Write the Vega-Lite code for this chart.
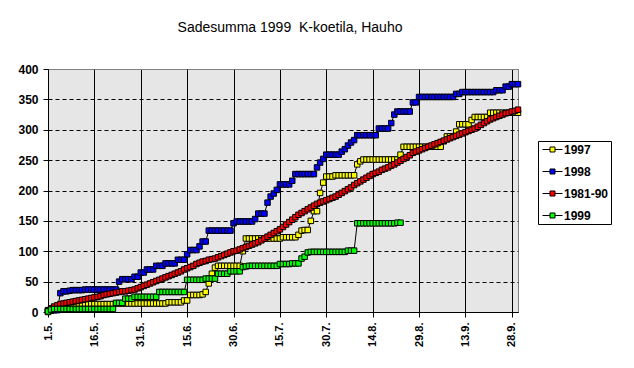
{
"$schema": "https://vega.github.io/schema/vega-lite/v6.json",
"autosize": "none",
"width": 470,
"height": 243,
"padding": {"left": 48, "top": 69, "right": 116, "bottom": 56},
"background": "white",
"title": {"text": "Sadesumma 1999\u00a0 K-koetila, Hauho", "font": "Liberation Sans", "fontSize": 14, "fontWeight": "normal", "color": "black", "anchor": "middle", "dx": 7, "offset": 28},
"data": {"values": [
{"d":"1999-05-01","1997":0,"1998":2,"1981-90":3,"1999":1},
{"d":"1999-05-02","1997":4,"1998":2,"1981-90":6,"1999":4},
{"d":"1999-05-03","1997":7,"1998":3,"1981-90":9,"1999":5},
{"d":"1999-05-04","1997":9,"1998":3,"1981-90":11,"1999":5},
{"d":"1999-05-05","1997":11,"1998":31,"1981-90":13,"1999":5},
{"d":"1999-05-06","1997":12,"1998":34,"1981-90":14,"1999":5},
{"d":"1999-05-07","1997":12,"1998":34,"1981-90":15,"1999":5},
{"d":"1999-05-08","1997":13,"1998":35,"1981-90":16,"1999":5},
{"d":"1999-05-09","1997":13,"1998":36,"1981-90":17,"1999":5},
{"d":"1999-05-10","1997":13,"1998":36,"1981-90":18,"1999":5},
{"d":"1999-05-11","1997":13,"1998":36,"1981-90":19,"1999":5},
{"d":"1999-05-12","1997":13,"1998":36,"1981-90":20,"1999":5},
{"d":"1999-05-13","1997":13,"1998":37,"1981-90":21,"1999":5},
{"d":"1999-05-14","1997":13,"1998":37,"1981-90":22,"1999":5},
{"d":"1999-05-15","1997":13,"1998":37,"1981-90":23,"1999":5},
{"d":"1999-05-16","1997":13,"1998":37,"1981-90":24,"1999":5},
{"d":"1999-05-17","1997":13,"1998":37,"1981-90":25,"1999":5},
{"d":"1999-05-18","1997":13,"1998":37,"1981-90":26,"1999":5},
{"d":"1999-05-19","1997":13,"1998":37,"1981-90":28,"1999":5},
{"d":"1999-05-20","1997":13,"1998":37,"1981-90":29,"1999":5},
{"d":"1999-05-21","1997":13,"1998":37,"1981-90":30,"1999":5},
{"d":"1999-05-22","1997":13,"1998":37,"1981-90":31,"1999":5},
{"d":"1999-05-23","1997":14,"1998":37,"1981-90":32,"1999":15},
{"d":"1999-05-24","1997":14,"1998":50,"1981-90":33,"1999":15},
{"d":"1999-05-25","1997":14,"1998":54,"1981-90":34,"1999":15},
{"d":"1999-05-26","1997":14,"1998":54,"1981-90":34,"1999":22},
{"d":"1999-05-27","1997":14,"1998":54,"1981-90":35,"1999":22},
{"d":"1999-05-28","1997":14,"1998":54,"1981-90":36,"1999":22},
{"d":"1999-05-29","1997":14,"1998":58,"1981-90":37,"1999":25},
{"d":"1999-05-30","1997":14,"1998":58,"1981-90":39,"1999":25},
{"d":"1999-05-31","1997":14,"1998":65,"1981-90":41,"1999":25},
{"d":"1999-06-01","1997":14,"1998":65,"1981-90":43,"1999":25},
{"d":"1999-06-02","1997":14,"1998":70,"1981-90":45,"1999":25},
{"d":"1999-06-03","1997":14,"1998":70,"1981-90":47,"1999":25},
{"d":"1999-06-04","1997":14,"1998":70,"1981-90":49,"1999":25},
{"d":"1999-06-05","1997":14,"1998":76,"1981-90":51,"1999":25},
{"d":"1999-06-06","1997":14,"1998":76,"1981-90":53,"1999":33},
{"d":"1999-06-07","1997":14,"1998":76,"1981-90":55,"1999":33},
{"d":"1999-06-08","1997":14,"1998":80,"1981-90":57,"1999":33},
{"d":"1999-06-09","1997":16,"1998":80,"1981-90":59,"1999":33},
{"d":"1999-06-10","1997":16,"1998":80,"1981-90":61,"1999":33},
{"d":"1999-06-11","1997":16,"1998":80,"1981-90":63,"1999":33},
{"d":"1999-06-12","1997":16,"1998":86,"1981-90":65,"1999":33},
{"d":"1999-06-13","1997":16,"1998":86,"1981-90":67,"1999":33},
{"d":"1999-06-14","1997":19,"1998":86,"1981-90":70,"1999":33},
{"d":"1999-06-15","1997":19,"1998":95,"1981-90":72,"1999":53},
{"d":"1999-06-16","1997":28,"1998":102,"1981-90":74,"1999":53},
{"d":"1999-06-17","1997":28,"1998":102,"1981-90":76,"1999":53},
{"d":"1999-06-18","1997":28,"1998":102,"1981-90":79,"1999":53},
{"d":"1999-06-19","1997":28,"1998":108,"1981-90":81,"1999":53},
{"d":"1999-06-20","1997":29,"1998":116,"1981-90":83,"1999":53},
{"d":"1999-06-21","1997":33,"1998":116,"1981-90":84,"1999":55},
{"d":"1999-06-22","1997":47,"1998":134,"1981-90":86,"1999":55},
{"d":"1999-06-23","1997":63,"1998":134,"1981-90":87,"1999":55},
{"d":"1999-06-24","1997":73,"1998":134,"1981-90":88,"1999":55},
{"d":"1999-06-25","1997":76,"1998":134,"1981-90":90,"1999":63},
{"d":"1999-06-26","1997":76,"1998":134,"1981-90":92,"1999":63},
{"d":"1999-06-27","1997":76,"1998":134,"1981-90":94,"1999":63},
{"d":"1999-06-28","1997":76,"1998":134,"1981-90":96,"1999":63},
{"d":"1999-06-29","1997":76,"1998":134,"1981-90":98,"1999":67},
{"d":"1999-06-30","1997":76,"1998":146,"1981-90":100,"1999":67},
{"d":"1999-07-01","1997":76,"1998":149,"1981-90":101,"1999":67},
{"d":"1999-07-02","1997":76,"1998":149,"1981-90":103,"1999":67},
{"d":"1999-07-03","1997":100,"1998":149,"1981-90":105,"1999":74},
{"d":"1999-07-04","1997":121,"1998":149,"1981-90":107,"1999":75},
{"d":"1999-07-05","1997":121,"1998":149,"1981-90":109,"1999":76},
{"d":"1999-07-06","1997":121,"1998":149,"1981-90":111,"1999":76},
{"d":"1999-07-07","1997":121,"1998":153,"1981-90":113,"1999":76},
{"d":"1999-07-08","1997":121,"1998":162,"1981-90":115,"1999":76},
{"d":"1999-07-09","1997":121,"1998":162,"1981-90":118,"1999":76},
{"d":"1999-07-10","1997":121,"1998":162,"1981-90":121,"1999":76},
{"d":"1999-07-11","1997":121,"1998":180,"1981-90":124,"1999":76},
{"d":"1999-07-12","1997":121,"1998":190,"1981-90":127,"1999":76},
{"d":"1999-07-13","1997":121,"1998":195,"1981-90":130,"1999":76},
{"d":"1999-07-14","1997":121,"1998":201,"1981-90":133,"1999":76},
{"d":"1999-07-15","1997":121,"1998":210,"1981-90":136,"1999":79},
{"d":"1999-07-16","1997":123,"1998":210,"1981-90":140,"1999":79},
{"d":"1999-07-17","1997":123,"1998":210,"1981-90":144,"1999":79},
{"d":"1999-07-18","1997":123,"1998":210,"1981-90":148,"1999":79},
{"d":"1999-07-19","1997":123,"1998":216,"1981-90":152,"1999":80},
{"d":"1999-07-20","1997":123,"1998":227,"1981-90":156,"1999":80},
{"d":"1999-07-21","1997":127,"1998":227,"1981-90":160,"1999":80},
{"d":"1999-07-22","1997":134,"1998":227,"1981-90":163,"1999":88},
{"d":"1999-07-23","1997":135,"1998":227,"1981-90":166,"1999":91},
{"d":"1999-07-24","1997":135,"1998":227,"1981-90":169,"1999":98},
{"d":"1999-07-25","1997":150,"1998":227,"1981-90":172,"1999":99},
{"d":"1999-07-26","1997":166,"1998":227,"1981-90":175,"1999":99},
{"d":"1999-07-27","1997":166,"1998":238,"1981-90":178,"1999":99},
{"d":"1999-07-28","1997":196,"1998":246,"1981-90":180,"1999":99},
{"d":"1999-07-29","1997":213,"1998":252,"1981-90":182,"1999":99},
{"d":"1999-07-30","1997":223,"1998":259,"1981-90":184,"1999":99},
{"d":"1999-07-31","1997":223,"1998":259,"1981-90":186,"1999":99},
{"d":"1999-08-01","1997":223,"1998":259,"1981-90":188,"1999":99},
{"d":"1999-08-02","1997":225,"1998":259,"1981-90":190,"1999":99},
{"d":"1999-08-03","1997":225,"1998":259,"1981-90":193,"1999":99},
{"d":"1999-08-04","1997":225,"1998":264,"1981-90":196,"1999":99},
{"d":"1999-08-05","1997":225,"1998":268,"1981-90":199,"1999":99},
{"d":"1999-08-06","1997":225,"1998":274,"1981-90":202,"1999":101},
{"d":"1999-08-07","1997":225,"1998":279,"1981-90":205,"1999":101},
{"d":"1999-08-08","1997":225,"1998":283,"1981-90":209,"1999":101},
{"d":"1999-08-09","1997":243,"1998":291,"1981-90":212,"1999":146},
{"d":"1999-08-10","1997":248,"1998":291,"1981-90":215,"1999":146},
{"d":"1999-08-11","1997":251,"1998":291,"1981-90":218,"1999":146},
{"d":"1999-08-12","1997":251,"1998":291,"1981-90":221,"1999":146},
{"d":"1999-08-13","1997":251,"1998":291,"1981-90":224,"1999":146},
{"d":"1999-08-14","1997":251,"1998":291,"1981-90":227,"1999":146},
{"d":"1999-08-15","1997":251,"1998":291,"1981-90":229,"1999":146},
{"d":"1999-08-16","1997":251,"1998":302,"1981-90":231,"1999":146},
{"d":"1999-08-17","1997":251,"1998":302,"1981-90":234,"1999":146},
{"d":"1999-08-18","1997":251,"1998":302,"1981-90":236,"1999":146},
{"d":"1999-08-19","1997":251,"1998":302,"1981-90":238,"1999":146},
{"d":"1999-08-20","1997":251,"1998":311,"1981-90":241,"1999":146},
{"d":"1999-08-21","1997":251,"1998":325,"1981-90":243,"1999":146},
{"d":"1999-08-22","1997":251,"1998":330,"1981-90":246,"1999":147},
{"d":"1999-08-23","1997":259,"1998":330,"1981-90":249,"1999":147},
{"d":"1999-08-24","1997":272,"1998":330,"1981-90":252},
{"d":"1999-08-25","1997":272,"1998":330,"1981-90":255},
{"d":"1999-08-26","1997":272,"1998":330,"1981-90":258},
{"d":"1999-08-27","1997":272,"1998":345,"1981-90":262},
{"d":"1999-08-28","1997":272,"1998":345,"1981-90":264},
{"d":"1999-08-29","1997":272,"1998":354,"1981-90":266},
{"d":"1999-08-30","1997":272,"1998":354,"1981-90":268},
{"d":"1999-08-31","1997":272,"1998":354,"1981-90":270},
{"d":"1999-09-01","1997":272,"1998":354,"1981-90":272},
{"d":"1999-09-02","1997":272,"1998":354,"1981-90":274},
{"d":"1999-09-03","1997":272,"1998":354,"1981-90":276},
{"d":"1999-09-04","1997":272,"1998":354,"1981-90":278},
{"d":"1999-09-05","1997":272,"1998":354,"1981-90":280},
{"d":"1999-09-06","1997":281,"1998":354,"1981-90":282},
{"d":"1999-09-07","1997":289,"1998":354,"1981-90":284},
{"d":"1999-09-08","1997":289,"1998":354,"1981-90":286},
{"d":"1999-09-09","1997":289,"1998":354,"1981-90":288},
{"d":"1999-09-10","1997":297,"1998":359,"1981-90":290},
{"d":"1999-09-11","1997":309,"1998":359,"1981-90":292},
{"d":"1999-09-12","1997":309,"1998":362,"1981-90":294},
{"d":"1999-09-13","1997":309,"1998":362,"1981-90":296},
{"d":"1999-09-14","1997":309,"1998":362,"1981-90":298},
{"d":"1999-09-15","1997":316,"1998":362,"1981-90":300},
{"d":"1999-09-16","1997":321,"1998":362,"1981-90":302},
{"d":"1999-09-17","1997":321,"1998":362,"1981-90":305},
{"d":"1999-09-18","1997":321,"1998":362,"1981-90":308},
{"d":"1999-09-19","1997":321,"1998":362,"1981-90":311},
{"d":"1999-09-20","1997":321,"1998":362,"1981-90":314},
{"d":"1999-09-21","1997":328,"1998":362,"1981-90":317},
{"d":"1999-09-22","1997":328,"1998":362,"1981-90":319},
{"d":"1999-09-23","1997":328,"1998":365,"1981-90":321},
{"d":"1999-09-24","1997":328,"1998":365,"1981-90":323},
{"d":"1999-09-25","1997":328,"1998":365,"1981-90":325},
{"d":"1999-09-26","1997":328,"1998":371,"1981-90":327},
{"d":"1999-09-27","1997":328,"1998":371,"1981-90":328},
{"d":"1999-09-28","1997":328,"1998":375,"1981-90":330},
{"d":"1999-09-29","1997":328,"1998":375,"1981-90":331},
{"d":"1999-09-30","1997":328,"1998":375,"1981-90":333}
]},
"encoding": {
  "x": {"field": "d", "type": "temporal",
    "scale": {"type": "utc", "nice": false, "domain": [{"year":1999,"month":5,"date":1,"utc":true},{"year":1999,"month":9,"date":30,"utc":true}]},
    "axis": {"title": null, "format": "%-d.%-m.", "labelAngle": -90, "labelFontSize": 11, "labelPadding": 5, "labelOverlap": false, "labelFlush": false, "labelBound": false,
      "values": [{"year":1999,"month":5,"date":1,"utc":true},{"year":1999,"month":5,"date":16,"utc":true},{"year":1999,"month":5,"date":31,"utc":true},{"year":1999,"month":6,"date":15,"utc":true},{"year":1999,"month":6,"date":30,"utc":true},{"year":1999,"month":7,"date":15,"utc":true},{"year":1999,"month":7,"date":30,"utc":true},{"year":1999,"month":8,"date":14,"utc":true},{"year":1999,"month":8,"date":29,"utc":true},{"year":1999,"month":9,"date":13,"utc":true},{"year":1999,"month":9,"date":28,"utc":true}],
      "grid": true, "gridColor": "black", "gridDash": []}},
  "y": {"field": "v", "type": "quantitative",
    "scale": {"domain": [0, 400], "nice": false, "zero": true},
    "axis": {"title": null, "values": [0,50,100,150,200,250,300,350,400], "labelFontSize": 12, "labelPadding": 5, "grid": true, "gridDash": [4,3],
      "gridColor": {"condition": {"test": "datum.value >= 400", "value": "#808080"}, "value": "black"}}},
  "color": {"field": "s", "type": "nominal",
    "scale": {"domain": ["1997","1998","1981-90","1999"], "range": ["#ffff00","#0000ff","#ff0000","#00ff00"]},
    "legend": {"title": null, "orient": "none", "legendX": 490, "legendY": 72, "strokeColor": "black", "fillColor": "white", "padding": 2, "rowPadding": 9,
      "symbolType": "M-1.667,0H-0.417M0.417,0H1.667M-0.417,-0.417H0.417V0.417H-0.417Z", "symbolSize": 144, "symbolOffset": 6, "symbolStrokeColor": "black", "symbolStrokeWidth": 1, "symbolOpacity": 1,
      "labelExpr": "datum.label + '\u00a0\u00a0\u00a0\u00a0\u00a0\u00a0'",
      "labelFont": "Liberation Sans", "labelFontSize": 12, "labelFontWeight": "bold", "labelColor": "black", "labelOffset": 5}}
},
"layer": [
  {"transform": [{"fold": ["1997","1998","1981-90","1999"], "as": ["s","v"]}, {"filter": "isValid(datum.v)"}],
   "mark": {"type": "line", "strokeWidth": 1},
   "encoding": {"color": {"value": "black"}, "detail": {"field": "s", "type": "nominal"}}},
  {"transform": [{"fold": ["1997"], "as": ["s","v"]}, {"filter": "isValid(datum.v)"}],
   "mark": {"type": "point", "shape": "square", "filled": true, "size": 30, "stroke": "black", "strokeWidth": 1, "opacity": 1}},
  {"transform": [{"fold": ["1998"], "as": ["s","v"]}, {"filter": "isValid(datum.v)"}],
   "mark": {"type": "point", "shape": "square", "filled": true, "size": 30, "stroke": "black", "strokeWidth": 1, "opacity": 1}},
  {"transform": [{"fold": ["1981-90"], "as": ["s","v"]}, {"filter": "isValid(datum.v)"}],
   "mark": {"type": "point", "shape": "square", "filled": true, "size": 30, "stroke": "black", "strokeWidth": 1, "opacity": 1}},
  {"transform": [{"fold": ["1999"], "as": ["s","v"]}, {"filter": "isValid(datum.v)"}],
   "mark": {"type": "point", "shape": "square", "filled": true, "size": 30, "stroke": "black", "strokeWidth": 1, "opacity": 1}}
],
"config": {
  "font": "Liberation Sans",
  "view": {"fill": "#e6e6e6", "stroke": "#808080", "strokeWidth": 1},
  "axis": {"labelFont": "Liberation Sans", "labelFontWeight": "bold", "labelColor": "black", "domainColor": "black", "domainWidth": 1, "tickColor": "black", "tickSize": 5, "tickWidth": 1, "gridOpacity": 1, "gridWidth": 1}
}
}
